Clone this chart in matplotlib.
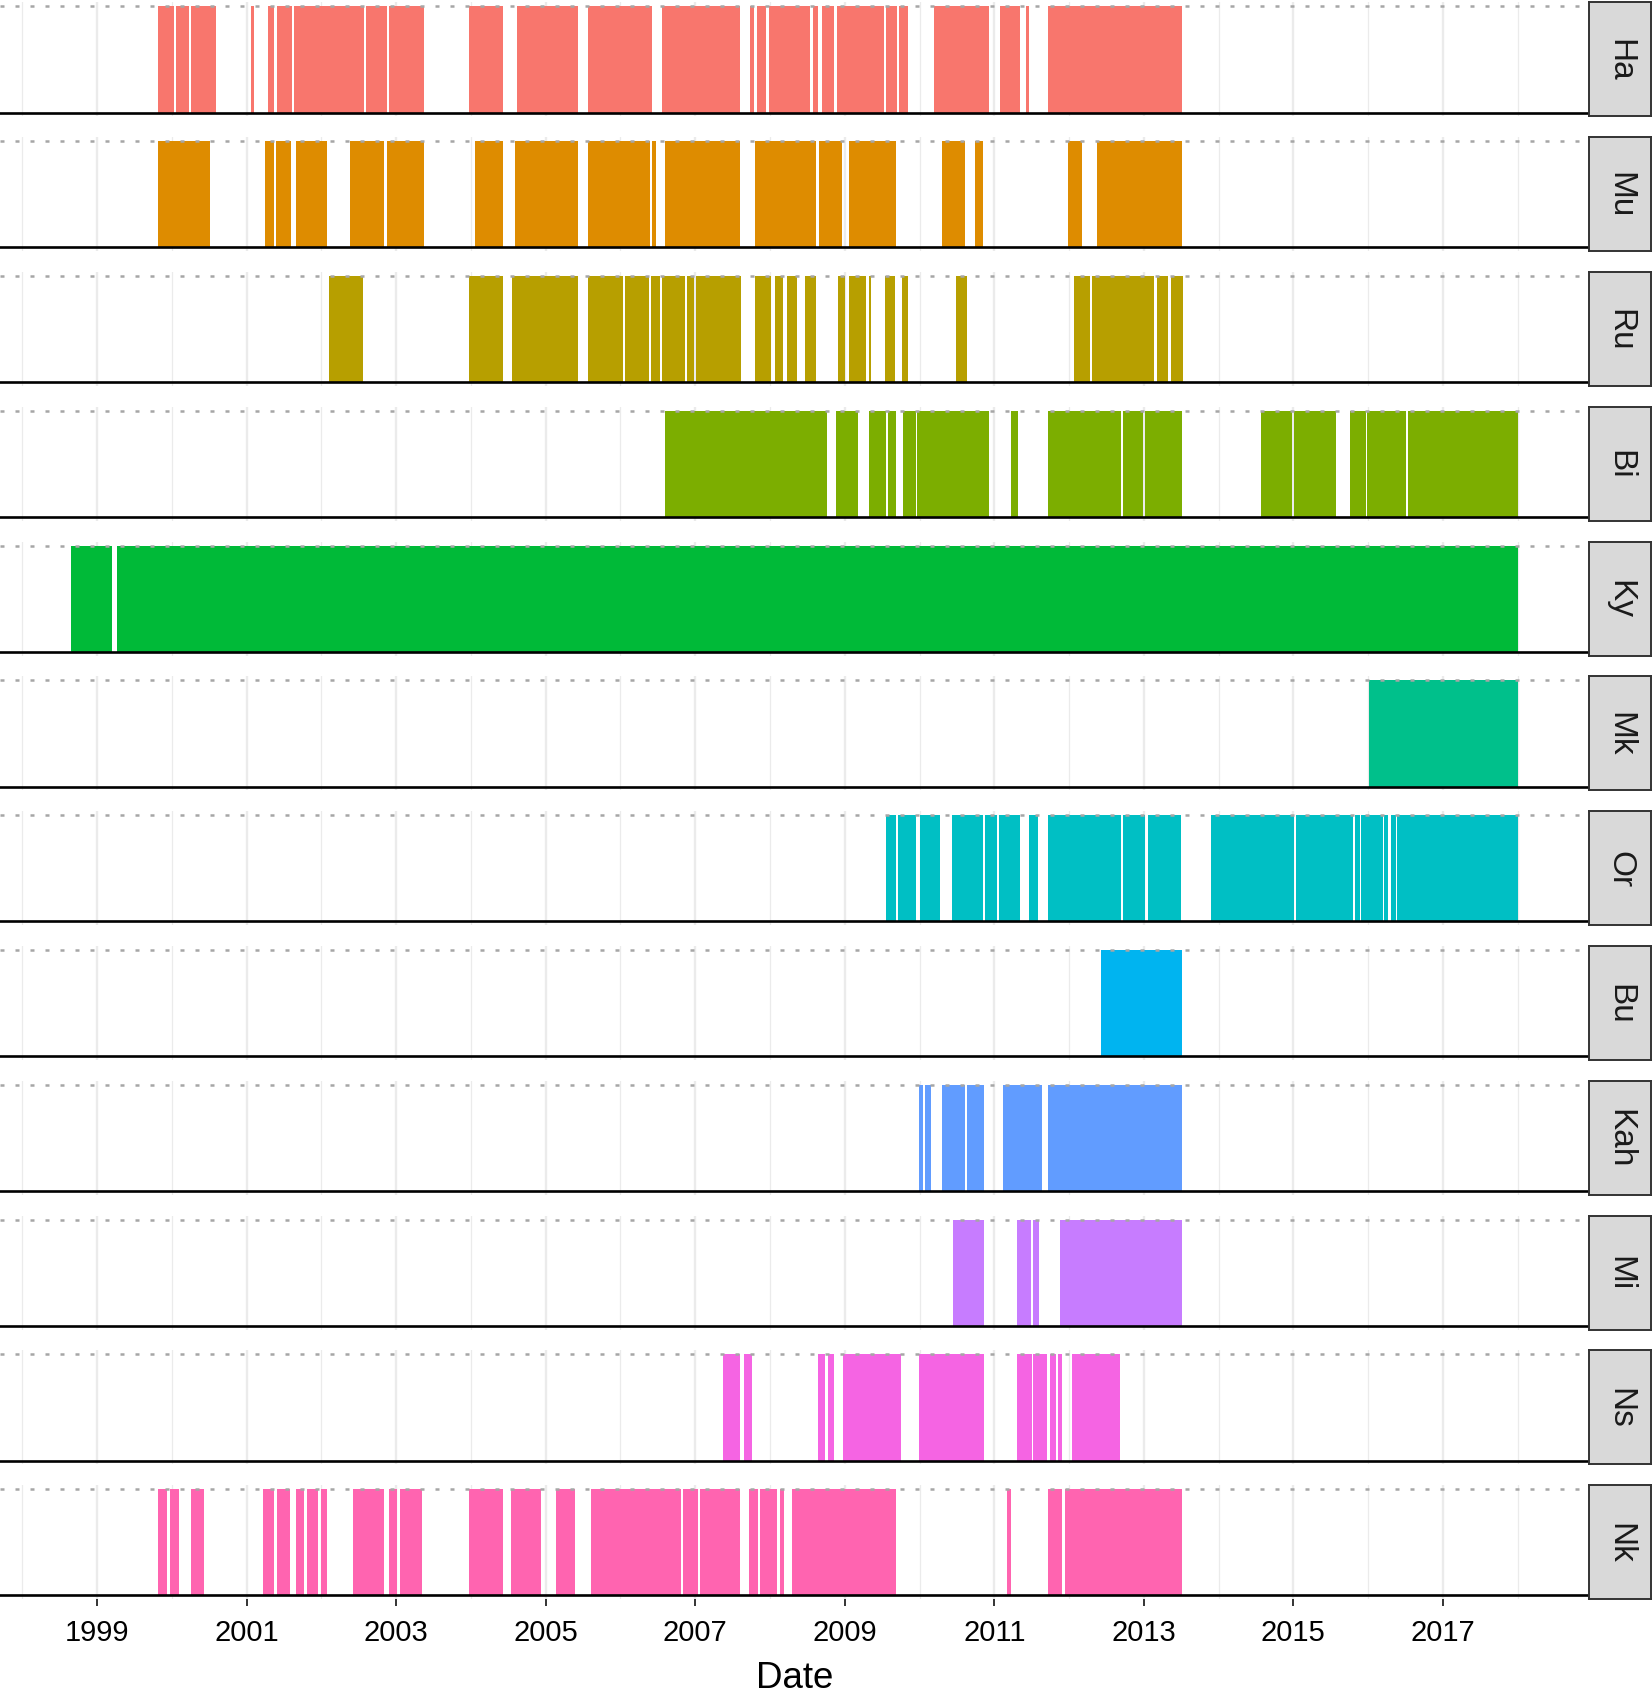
import matplotlib
matplotlib.use("Agg")
import matplotlib.pyplot as plt

plt.rcParams['font.family'] = ['Liberation Sans', 'DejaVu Sans']

# presence periods per individual, (start, end) in decimal years
ha = [(1999.82, 2000.03), (2000.06, 2000.23), (2000.25, 2000.59), (2001.06, 2001.10),
      (2001.29, 2001.37), (2001.40, 2001.60), (2001.63, 2002.57), (2002.59, 2002.67),
      (2002.68, 2002.87), (2002.90, 2003.37), (2003.98, 2004.43), (2004.62, 2005.43),
      (2005.56, 2006.42), (2006.55, 2007.60), (2007.73, 2007.79), (2007.82, 2007.94),
      (2007.98, 2008.53), (2008.58, 2008.64), (2008.70, 2008.85), (2008.89, 2009.52),
      (2009.55, 2009.70), (2009.73, 2009.85), (2010.19, 2010.93), (2011.07, 2011.35),
      (2011.43, 2011.47), (2011.72, 2013.51)]
mu = [(1999.82, 2000.51), (2001.24, 2001.36), (2001.39, 2001.59), (2001.66, 2002.08),
      (2002.38, 2002.83), (2002.87, 2003.37), (2004.05, 2004.43), (2004.59, 2005.43),
      (2005.56, 2006.40), (2006.42, 2006.47), (2006.59, 2007.60), (2007.80, 2008.62),
      (2008.65, 2008.96), (2009.06, 2009.69), (2010.30, 2010.61), (2010.74, 2010.85),
      (2011.98, 2012.17), (2012.38, 2013.51)]
ru = [(2002.10, 2002.56), (2003.98, 2004.43), (2004.55, 2005.43), (2005.56, 2006.03),
      (2006.06, 2006.38), (2006.41, 2006.53), (2006.56, 2006.86), (2006.89, 2006.98),
      (2007.01, 2007.61), (2007.80, 2008.01), (2008.06, 2008.18), (2008.23, 2008.36),
      (2008.47, 2008.62), (2008.91, 2009.00), (2009.06, 2009.29), (2009.32, 2009.35),
      (2009.54, 2009.67), (2009.77, 2009.84), (2010.49, 2010.63), (2012.06, 2012.28),
      (2012.31, 2013.14), (2013.17, 2013.33), (2013.37, 2013.52)]
bi = [(2006.59, 2008.76), (2008.88, 2009.18), (2009.32, 2009.55), (2009.58, 2009.69),
      (2009.78, 2009.95), (2009.97, 2010.93), (2011.22, 2011.32), (2011.72, 2012.69),
      (2012.72, 2012.99), (2013.02, 2013.51), (2014.57, 2014.98), (2015.01, 2015.57),
      (2015.76, 2015.97), (2015.99, 2016.51), (2016.54, 2018.00)]
ky = [(1998.65, 1999.20), (1999.26, 2018.00)]
mk = [(2016.01, 2018.00)]
orr = [(2009.55, 2009.69), (2009.71, 2009.95), (2010.00, 2010.27), (2010.43, 2010.85),
       (2010.88, 2011.03), (2011.06, 2011.35), (2011.46, 2011.58), (2011.72, 2012.69),
       (2012.72, 2013.02), (2013.06, 2013.50), (2013.90, 2015.01), (2015.04, 2015.80),
       (2015.83, 2015.89), (2015.91, 2016.20), (2016.21, 2016.27), (2016.30, 2016.37),
       (2016.39, 2018.00)]
bu = [(2012.43, 2013.51)]
kah = [(2009.99, 2010.04), (2010.07, 2010.15), (2010.30, 2010.61), (2010.64, 2010.86),
       (2011.11, 2011.64), (2011.72, 2013.51)]
mi = [(2010.45, 2010.86), (2011.31, 2011.49), (2011.52, 2011.60), (2011.88, 2013.51)]
ns = [(2007.37, 2007.60), (2007.65, 2007.76), (2008.64, 2008.74), (2008.78, 2008.86),
      (2008.97, 2009.75), (2009.99, 2010.86), (2011.31, 2011.50), (2011.52, 2011.70),
      (2011.74, 2011.83), (2011.85, 2011.90), (2012.04, 2012.68)]
nk = [(1999.82, 1999.94), (1999.97, 2000.10), (2000.25, 2000.43), (2001.22, 2001.36),
      (2001.40, 2001.58), (2001.66, 2001.77), (2001.81, 2001.95), (2002.00, 2002.08),
      (2002.42, 2002.83), (2002.90, 2003.01), (2003.05, 2003.35), (2003.98, 2004.43),
      (2004.54, 2004.94), (2005.14, 2005.39), (2005.60, 2006.81), (2006.84, 2007.03),
      (2007.06, 2007.60), (2007.72, 2007.84), (2007.87, 2008.09), (2008.13, 2008.19),
      (2008.29, 2009.68), (2011.17, 2011.23), (2011.72, 2011.91), (2011.94, 2013.51)]

names = ["Ha", "Mu", "Ru", "Bi", "Ky", "Mk", "Or", "Bu", "Kah", "Mi", "Ns", "Nk"]
periods = [ha, mu, ru, bi, ky, mk, orr, bu, kah, mi, ns, nk]
colors = ["#F8766D", "#DE8C00", "#B79F00", "#7CAE00", "#00BA38", "#00C08B",
          "#00BFC4", "#00B4F0", "#619CFF", "#C77CFF", "#F564E3", "#FF64B0"]

major_years = list(range(1999, 2019, 2))
minor_years = list(range(1998, 2019, 2))

W, H = 1652, 1699
fig = plt.figure(figsize=(W / 100, H / 100), dpi=100)

panel_right = 1589
strip_w = 62
panel_h = 114
step = 134.8
top0 = 3.3

for i, (name, per, col) in enumerate(zip(names, periods, colors)):
    top = top0 + i * step
    bottom = (H - top - panel_h) / H
    ax = fig.add_axes([0, bottom, panel_right / W, panel_h / H])
    ax.broken_barh([(s, e - s) for s, e in per], (0, 1), facecolors=col, linewidth=0, zorder=2)
    ax.axhline(1, color='#A6A6A6', lw=1.8, linestyle=(0, (1.6, 4.4)), zorder=3)
    ax.axhline(0, color='black', lw=1.9, zorder=4)
    ax.set_xlim(1997.70, 2018.955)
    ax.set_ylim(-0.034, 1.038)
    ax.set_xticks(major_years)
    ax.set_xticks(minor_years, minor=True)
    ax.grid(which='major', axis='x', color='#EBEBEB', lw=1.7, zorder=0)
    ax.grid(which='minor', axis='x', color='#EBEBEB', lw=0.9, zorder=0)
    ax.set_yticks([])
    for sp in ax.spines.values():
        sp.set_visible(False)
    ax.tick_params(axis='x', which='minor', length=0)
    if i == len(names) - 1:
        ax.set_xticklabels([str(y) for y in major_years])
        ax.tick_params(axis='x', which='major', length=5, width=1.4, color='#333333',
                       labelsize=21, pad=8.5, labelcolor='black')
        ax.set_xlabel("Date", fontsize=26.5, labelpad=10)
    else:
        ax.tick_params(axis='x', which='major', length=0, labelbottom=False)

    sax = fig.add_axes([panel_right / W, bottom, strip_w / W, panel_h / H])
    sax.set_facecolor('#D9D9D9')
    sax.set_xticks([])
    sax.set_yticks([])
    for sp in sax.spines.values():
        sp.set_color('#333333')
        sp.set_linewidth(1.4)
    sax.text(0.5, 0.5, name, rotation=270, ha='center', va='center',
             fontsize=24, color='#1A1A1A', transform=sax.transAxes)

fig.savefig("out.png", dpi=100)
